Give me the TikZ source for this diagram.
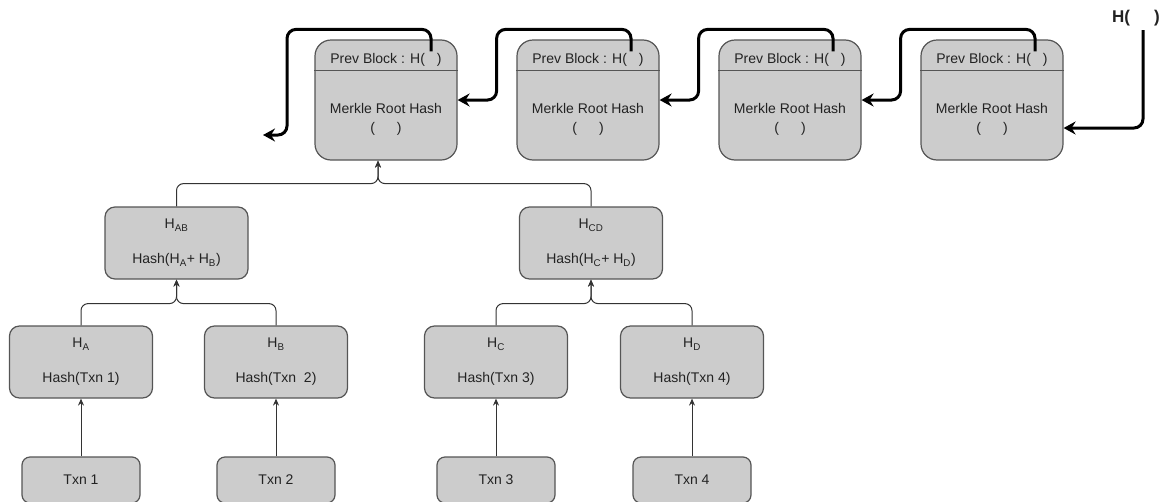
\documentclass[tikz,border=0pt]{standalone}
\usepackage{fontspec}
\setmainfont{Liberation Sans}
\usetikzlibrary{arrows.meta,calc}
\definecolor{boxfill}{HTML}{CCCCCC}
\definecolor{boxline}{HTML}{555555}
\definecolor{linkline}{HTML}{333333}
\definecolor{ink}{HTML}{222222}

\begin{document}
\begin{tikzpicture}[x=1pt,y=-1pt,
  font=\fontsize{14}{16}\selectfont,
  every node/.style={text=ink},
  block/.style={draw=boxline, fill=boxfill, line width=1.2pt, rounded corners=16pt,
    minimum width=142pt, minimum height=120pt, inner sep=0pt},
  hashbox/.style={draw=boxline, fill=boxfill, line width=1.2pt, rounded corners=10pt,
    minimum width=143pt, minimum height=72pt, align=center, inner sep=0pt},
  txnbox/.style={draw=boxline, fill=boxfill, line width=1.2pt, rounded corners=8pt,
    minimum width=118pt, minimum height=46pt, inner sep=0pt},
  txt/.style={inner sep=0pt, align=center},
  chain/.style={line width=3pt, rounded corners=9pt,
    -{Stealth[length=12pt,width=13pt,inset=4pt]}},
  link/.style={draw=linkline, line width=1pt, rounded corners=7pt,
    -{Stealth[length=7pt,width=6pt]}}
]
\useasboundingbox (0,0) rectangle (1161,501);

% ---- chain of blocks ----
\foreach \i/\x in {1/386,2/588,3/790,4/992}{
  \node[block] (b\i) at (\x,100) {};
  \draw[draw=boxline, line width=1.2pt]
    ($(b\i.north west)+(0,31)$) -- ($(b\i.north east)+(0,31)$);
  \node[txt] (pb\i) at ($(b\i.north)+(0,20)$) {Prev Block : H(\hspace{12pt})};
  \node[txt] (mr\i) at ($(b\i.center)+(0,19)$) {Merkle Root Hash\\[3pt](\hspace{22pt})};
}

% newest hash feeding the last block
\node[txt, font=\fontsize{17}{19}\selectfont\bfseries] (hnew) at (1136,18) {H(\hspace{24pt})};

% back links from each block to the one before it
\foreach \j/\i in {2/1,3/2,4/3}{
  \coordinate (in\i) at (b\i.east);
  \draw[chain] ($(b\j.north)+(43,12)$) -- ++(0,-22) -| ($(in\i)+(39,0)$) -- (in\i);
}
\coordinate (out) at (263,135);
\draw[chain] ($(b1.north)+(45,12)$) -- ++(0,-22) -| ($(out)+(24,0)$) -- (out);
\coordinate (in4) at ($(b4.east)+(0,28)$);
\draw[chain] (1143,30) |- (in4);

% ---- Merkle tree ----
\node[hashbox] (hab) at (176.5,243)
  {H\textsubscript{AB}\\[19pt]Hash(H\textsubscript{A}+ H\textsubscript{B})};
\node[hashbox] (hcd) at (591,243)
  {H\textsubscript{CD}\\[19pt]Hash(H\textsubscript{C}+ H\textsubscript{D})};

\node[hashbox] (ha) at (81,362) {H\textsubscript{A}\\[19pt]Hash(Txn 1)};
\node[hashbox] (hb) at (276,362) {H\textsubscript{B}\\[19pt]Hash(Txn\ \ 2)};
\node[hashbox] (hc) at (496,362) {H\textsubscript{C}\\[19pt]Hash(Txn 3)};
\node[hashbox] (hd) at (692,362) {H\textsubscript{D}\\[19pt]Hash(Txn 4)};

\node[txnbox] (t1) at (81,480) {Txn 1};
\node[txnbox] (t2) at (276,480) {Txn 2};
\node[txnbox] (t3) at (496,480) {Txn 3};
\node[txnbox] (t4) at (692,480) {Txn 4};

% transactions up to their hashes
\foreach \t/\h in {t1/ha,t2/hb,t3/hc,t4/hd}
  \draw[link] (\t.north) -- (\t.north |- \h.south);

% pairs joined into their parent hash
\coordinate (root) at ($(b1.south)+(-8,0)$);
\foreach \c/\p in {ha/hab,hb/hab,hc/hcd,hd/hcd}
  \draw[link] (\c.north) |- ($(\p.south)+(0,24)$) -- (\p.south);
\foreach \c in {hab,hcd}
  \draw[link] (\c.north) |- ($(root)+(0,23)$) -- (root);
\end{tikzpicture}
\end{document}
